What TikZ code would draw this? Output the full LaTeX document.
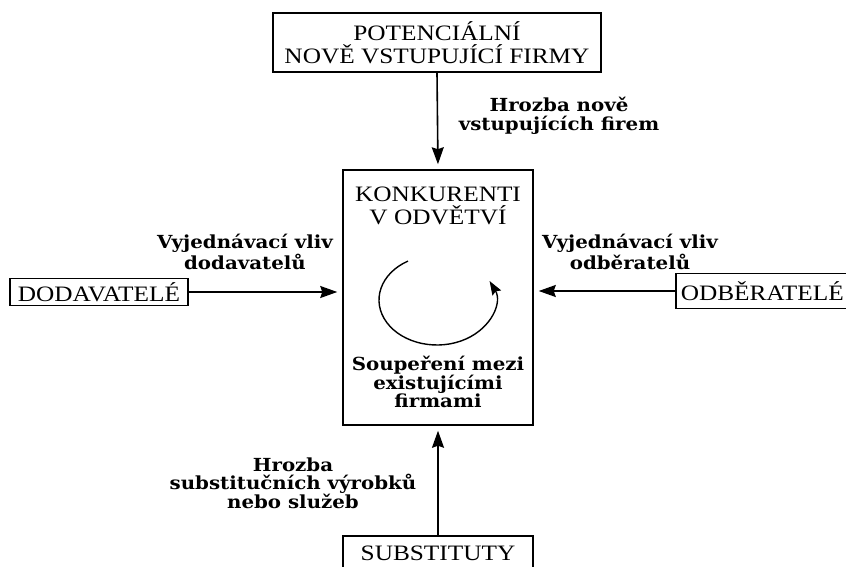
\documentclass[tikz,border=0pt]{standalone}
\usepackage{fontspec}
\setmainfont{Liberation Serif}[FakeStretch=1.15]
\newfontfamily\threatfont{DejaVu Serif}[FakeStretch=1.1]
\usetikzlibrary{arrows.meta,calc}

\begin{document}
\begin{tikzpicture}[x=1pt, y=-1pt,
    title/.style={font=\fontsize{22}{23}\selectfont, align=center, inner sep=0pt},
    box/.style={title, draw, line width=1.5pt},
    threat/.style={font=\threatfont\bfseries\fontsize{18}{18.5}\selectfont, align=center, inner sep=0pt},
    force/.style={-{Stealth[length=17pt,width=12pt,inset=2pt]}, line width=1.6pt, shorten >=5pt}]
    \useasboundingbox (0,0) rectangle (846,567);
    \clip (0,0) rectangle (846,567);
    \fill[white] (0,0) rectangle (846,567);

    % Rivals in the middle
    \node[box, minimum width=190pt, minimum height=255pt] (konkurenti) at (438,297.5) {};
    \node[title] (konkurentiText) at (438,206) {KONKURENTI\\V ODVĚTVÍ};

    % Five forces around it
    \node[box, minimum width=328pt, minimum height=59pt] (potencialni) at (437,42.5) {POTENCIÁLNÍ\\NOVĚ VSTUPUJÍCÍ FIRMY};
    \node[box, minimum width=178pt, minimum height=27pt] (dodavatele) at (99,292) {DODAVATELÉ};
    \node[box, minimum height=35pt, inner xsep=5pt, anchor=west] (odberatele) at (675,291) {ODBĚRATELÉ};
    \node[box, minimum width=190pt, minimum height=36pt, anchor=north] (substituty) at (438,535) {SUBSTITUTY};

    % Arrows into the industry
    \draw[force] (potencialni.south) -- (konkurenti.north);
    \draw[force] (dodavatele.east) -- (dodavatele.east -| konkurenti.west);
    \draw[force] (odberatele.west) -- (odberatele.west -| konkurenti.east);
    \draw[force] (substituty.north) -- (konkurenti.south);

    % Rivalry loop
    \coordinate (spin) at (437,300);
    \draw[line width=1.4pt, -{Stealth[length=14pt,width=10pt,inset=2pt]}] (spin) ++(-120:58 and 45)
        arc[start angle=-120, end angle=-385, x radius=58, y radius=45];

    % Labels
    \node[threat] (hrozbaVstup) at (559,116) {Hrozba nově\\vstupujících firem};
    \node[threat] (vlivDodavatel) at (245,252) {Vyjednávací vliv\\dodavatelů};
    \node[threat] (vlivOdberatel) at (630,252) {Vyjednávací vliv\\odběratelů};
    \node[threat] (rivalita) at (438,382) {Soupeření mezi\\existujícími\\firmami};
    \node[threat] (hrozbaSubst) at (293,483) {Hrozba\\substitučních výrobků\\nebo služeb};
\end{tikzpicture}
\end{document}
